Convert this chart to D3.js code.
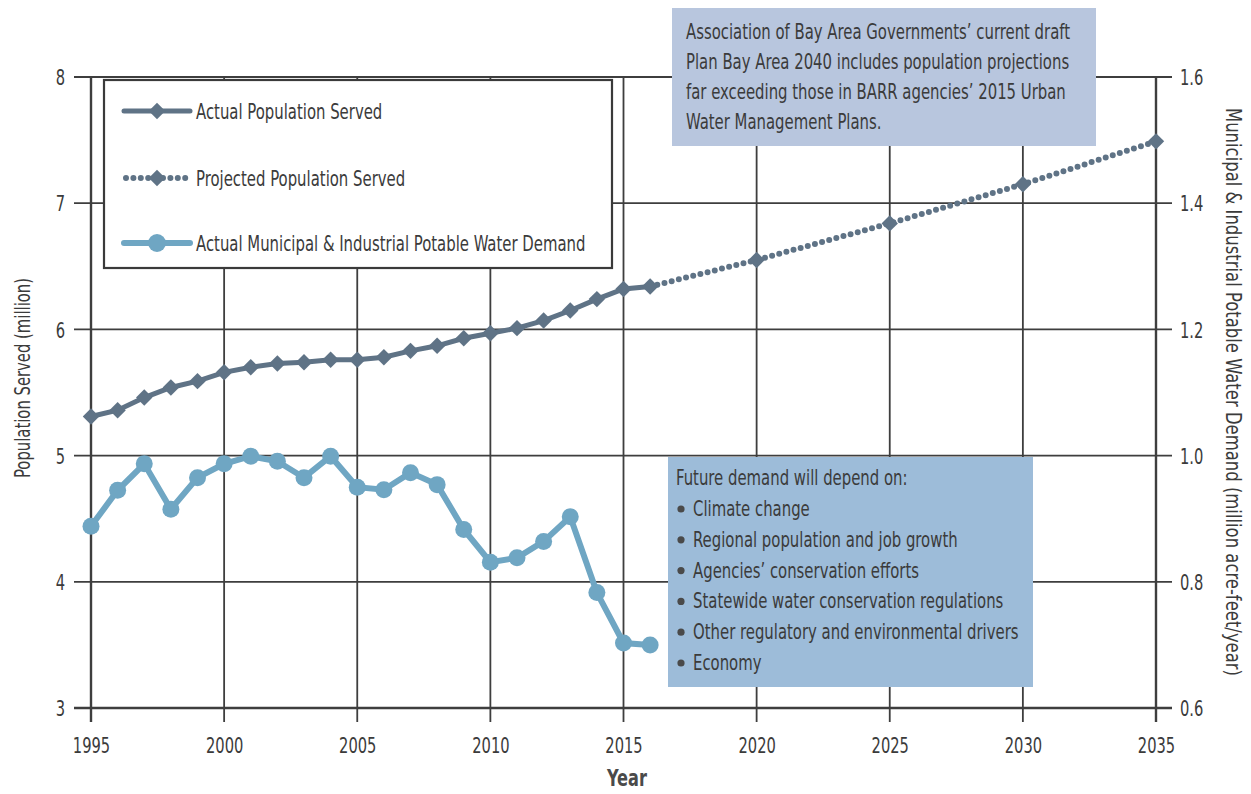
<!DOCTYPE html>
<html><head><meta charset="utf-8">
<script src="https://cdn.jsdelivr.net/npm/d3@7"></script>
<style>
body{margin:0;background:#fff;}
text{font-family:"DejaVu Sans Condensed","DejaVu Sans",sans-serif;fill:#3b3b3b;}
</style></head>
<body>
<svg id="c" width="1251" height="794"></svg>
<script>
const years = [1995,1996,1997,1998,1999,2000,2001,2002,2003,2004,2005,2006,2007,2008,2009,2010,2011,2012,2013,2014,2015,2016];
const popActual = [5.31,5.36,5.46,5.54,5.59,5.66,5.70,5.73,5.74,5.76,5.76,5.78,5.83,5.87,5.93,5.97,6.01,6.07,6.15,6.24,6.32,6.34];
const projYears = [2016,2020,2025,2030,2035];
const popProjected = [6.34,6.55,6.84,7.15,7.49];
const waterDemand = [0.888,0.945,0.987,0.915,0.965,0.987,0.999,0.991,0.965,0.999,0.950,0.946,0.973,0.954,0.883,0.831,0.838,0.864,0.903,0.783,0.703,0.700];
const xTicks = [1995,2000,2005,2010,2015,2020,2025,2030,2035];
const leftTicks = [3,4,5,6,7,8];
const rightTicks = [0.6,0.8,1.0,1.2,1.4,1.6];
const legendLabels = ["Actual Population Served","Projected Population Served","Actual Municipal & Industrial Potable Water Demand"];
const noteTop = ["Association of Bay Area Governments’ current draft","Plan Bay Area 2040 includes population projections","far exceeding those in BARR agencies’ 2015 Urban","Water Management Plans."];
const noteBottomTitle = "Future demand will depend on:";
const noteBottom = ["Climate change","Regional population and job growth","Agencies’ conservation efforts","Statewide water conservation regulations","Other regulatory and environmental drivers","Economy"];

const popColor = "#5f7386", waterColor = "#6fa6c3", gridColor = "#3e3e3e";
const SX = 0.77;
const svg = d3.select("#c");
const x = d3.scaleLinear().domain([1995,2035]).range([91,1156]);
const yL = d3.scaleLinear().domain([3,8]).range([708,77]);
const yR = d3.scaleLinear().domain([0.6,1.6]).range([708,77]);

function txt(parent, px, py, str, size, sx, anchor){
  return parent.append("text").attr("transform",`translate(${px},${py}) scale(${sx},1)`)
    .attr("text-anchor",anchor||"start").attr("font-size",size).text(str);
}

// grid lines
const g = svg.append("g");
g.selectAll(".hg").data(leftTicks).join("line")
  .attr("x1",74).attr("x2",1172).attr("y1",d=>yL(d)).attr("y2",d=>yL(d))
  .attr("stroke",gridColor).attr("stroke-width",d=>d===3?2.4:1.8);
g.selectAll(".vg").data(xTicks).join("line")
  .attr("x1",d=>x(d)).attr("x2",d=>x(d)).attr("y1",77).attr("y2",722)
  .attr("stroke",gridColor).attr("stroke-width",d=>(d===1995||d===2035)?2.4:1.8);

// tick labels via d3 axes
const fs = 21.5, TSX = 0.76;
const la = svg.append("g").attr("transform","translate(65,0)").call(d3.axisLeft(yL).tickValues(leftTicks).tickSize(0).tickFormat(d3.format("d")));
la.select(".domain").remove();
la.selectAll("text").attr("font-size",fs).attr("font-family",null).attr("fill","#3b3b3b").attr("x",0).attr("dy","0.36em").attr("transform",`scale(${TSX},1)`);
const ra = svg.append("g").attr("transform","translate(1180,0)").call(d3.axisRight(yR).tickValues(rightTicks).tickSize(0).tickFormat(d3.format(".1f")));
ra.select(".domain").remove();
ra.selectAll("text").attr("font-size",fs).attr("font-family",null).attr("fill","#3b3b3b").attr("x",0).attr("dy","0.36em").attr("transform",`scale(${TSX},1)`);
const ba = svg.append("g").attr("transform","translate(0,753)").call(d3.axisBottom(x).tickValues(xTicks).tickSize(0).tickFormat(d3.format("d")));
ba.select(".domain").remove();
ba.selectAll("text").attr("font-size",fs).attr("font-family",null).attr("fill","#3b3b3b").attr("y",0).attr("dy",0).attr("transform",`scale(${TSX},1)`);

// axis titles
svg.append("text").attr("transform","translate(30,378) rotate(-90)").attr("text-anchor","middle").attr("font-size",21.5)
  .attr("textLength",200).attr("lengthAdjust","spacingAndGlyphs").text("Population Served (million)");
svg.append("text").attr("transform","translate(1226,392) rotate(90)").attr("text-anchor","middle").attr("font-size",21.5)
  .attr("textLength",568).attr("lengthAdjust","spacingAndGlyphs").text("Municipal & Industrial Potable Water Demand (million acre-feet/year)");
txt(svg,627,786,"Year",23,0.78,"middle").attr("font-weight","bold").style("fill","#4a4a4a");

// legend box
svg.append("rect").attr("x",104).attr("y",80).attr("width",508).attr("height",188).attr("fill","#fff").attr("stroke","#3a3a3a").attr("stroke-width",2.2);

// annotation boxes
svg.append("rect").attr("x",672).attr("y",8).attr("width",424).attr("height",138).attr("fill","#b8c6de");
noteTop.forEach((t,i)=>txt(svg,686,39+i*30,t,21.5,SX));
svg.append("rect").attr("x",668).attr("y",457).attr("width",365).attr("height",230).attr("fill","#9dbcd9");
txt(svg,676,485,noteBottomTitle,21.5,SX);
noteBottom.forEach((t,i)=>{
  svg.append("circle").attr("cx",681).attr("cy",509+i*30.8).attr("r",3.6).attr("fill","#4a4a4a");
  txt(svg,693,516+i*30.8,t,21.5,SX);
});

// series
const diamond = d3.symbol().type(d3.symbolSquare).size(135);
const dT = (px,py)=>`translate(${px},${py}) rotate(45)`;
const popPts = years.map((y,i)=>[y,popActual[i]]);
const projPts = projYears.map((y,i)=>[y,popProjected[i]]);
const wPts = years.map((y,i)=>[y,waterDemand[i]]);
const lineL = d3.line().x(d=>x(d[0])).y(d=>yL(d[1]));
const lineR = d3.line().x(d=>x(d[0])).y(d=>yR(d[1]));

svg.append("path").attr("d",lineL(projPts)).attr("fill","none").attr("stroke",popColor).attr("stroke-width",6).attr("stroke-linecap","round").attr("stroke-dasharray","0 7.4");
svg.selectAll(".pd").data(projPts.slice(1)).join("path").attr("d",diamond).attr("transform",d=>dT(x(d[0]),yL(d[1]))).attr("fill",popColor);
svg.append("path").attr("d",lineL(popPts)).attr("fill","none").attr("stroke",popColor).attr("stroke-width",5);
svg.selectAll(".ad").data(popPts).join("path").attr("d",diamond).attr("transform",d=>dT(x(d[0]),yL(d[1]))).attr("fill",popColor);
svg.append("path").attr("d",lineR(wPts)).attr("fill","none").attr("stroke",waterColor).attr("stroke-width",6);
svg.selectAll(".wc").data(wPts).join("circle").attr("cx",d=>x(d[0])).attr("cy",d=>yR(d[1])).attr("r",8.5).attr("fill",waterColor);

// legend entries
const ly = [111,178,243];
const lg = svg.append("g");
lg.append("line").attr("x1",124).attr("x2",190).attr("y1",ly[0]).attr("y2",ly[0]).attr("stroke",popColor).attr("stroke-width",5).attr("stroke-linecap","round");
lg.append("path").attr("d",diamond).attr("transform",dT(157,ly[0])).attr("fill",popColor);
lg.append("line").attr("x1",126).attr("x2",190).attr("y1",ly[1]).attr("y2",ly[1]).attr("stroke",popColor).attr("stroke-width",6).attr("stroke-linecap","round").attr("stroke-dasharray","0 7.4");
lg.append("path").attr("d",diamond).attr("transform",dT(157,ly[1])).attr("fill",popColor);
lg.append("line").attr("x1",124).attr("x2",190).attr("y1",ly[2]).attr("y2",ly[2]).attr("stroke",waterColor).attr("stroke-width",6).attr("stroke-linecap","round");
lg.append("circle").attr("cx",157).attr("cy",ly[2]).attr("r",9).attr("fill",waterColor);
legendLabels.forEach((t,i)=>txt(lg,196,ly[i]+8,t,21.5,SX));
</script>
</body></html>
